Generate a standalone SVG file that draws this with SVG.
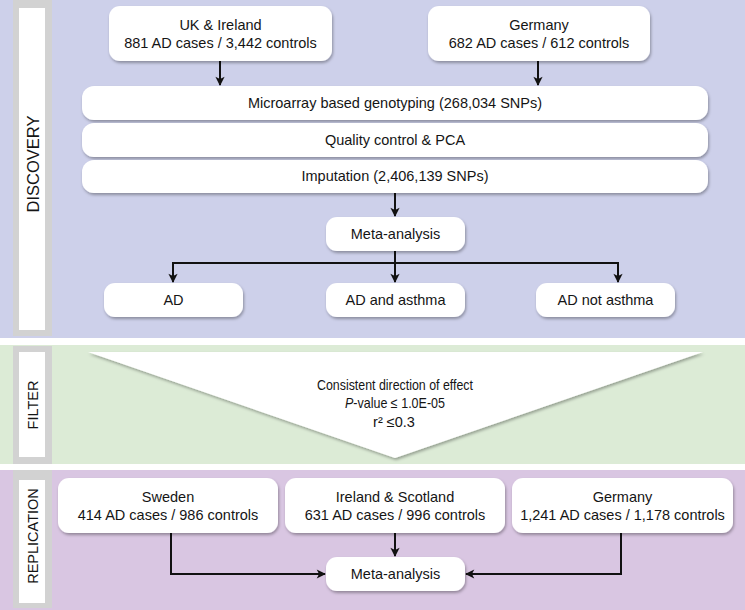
<svg xmlns="http://www.w3.org/2000/svg" width="745" height="610" viewBox="0 0 745 610">
<defs>
<filter id="sh" x="-10%" y="-20%" width="120%" height="150%">
<feDropShadow dx="1" dy="2" stdDeviation="1.6" flood-color="#000" flood-opacity="0.32"/>
</filter>
<marker id="ah" viewBox="0 0 10 10" refX="9" refY="5" markerWidth="5" markerHeight="4.6" orient="auto" markerUnits="strokeWidth">
<path d="M0,0 L10,5 L0,10 L2.5,5 z" fill="#111"/>
</marker>
<style>
.box{fill:#fff;filter:url(#sh)}
.t{font-family:"Liberation Sans",Arial,Helvetica,sans-serif;font-size:14.5px;fill:#151515;text-anchor:middle}
.lab{font-family:"Liberation Sans",Arial,Helvetica,sans-serif;fill:#151515;text-anchor:middle}
.strip{fill:#d2d2d2}
.inner{fill:#fff}
.c{fill:none;stroke:#111;stroke-width:2}
.ca{fill:none;stroke:#111;stroke-width:2;marker-end:url(#ah)}
</style>
</defs>
<rect x="0" y="0" width="745" height="610" fill="#fff"/>
<g id="panels">
<rect x="0" y="0" width="745" height="338" fill="#cdd0ea"/>
<rect x="0" y="345" width="745" height="119" fill="#dcebd6"/>
<rect x="0" y="470" width="745" height="140" fill="#d9c6e2"/>
</g>
<g id="label-discovery">
<rect class="strip" x="13" y="0" width="39" height="336"/>
<rect class="inner" x="19" y="8" width="26" height="322"/>
<text class="lab" font-size="16.5" transform="translate(39,164) rotate(-90)">DISCOVERY</text>
</g>
<g id="label-filter">
<rect class="strip" x="13" y="346" width="39" height="118"/>
<rect class="inner" x="19" y="352" width="26" height="105"/>
<text class="lab" font-size="14.5" transform="translate(38,405) rotate(-90)">FILTER</text>
</g>
<g id="label-replication">
<rect class="strip" x="13" y="470" width="39" height="138"/>
<rect class="inner" x="19" y="480" width="26" height="123"/>
<text class="lab" font-size="14.5" transform="translate(37.5,536) rotate(-90)">REPLICATION</text>
</g>
<g id="connectors">
<line class="ca" x1="220" y1="60" x2="220" y2="85"/>
<line class="ca" x1="538" y1="61" x2="538" y2="85"/>
<line class="ca" x1="395" y1="193" x2="395" y2="216"/>
<polyline class="c" points="173,263 618,263"/>
<line class="c" x1="395" y1="251" x2="395" y2="263"/>
<line class="ca" x1="173" y1="262" x2="173" y2="282"/>
<line class="ca" x1="395" y1="263" x2="395" y2="282"/>
<line class="ca" x1="618" y1="262" x2="618" y2="282"/>
<polyline class="ca" points="171,533 171,574 325,574"/>
<line class="ca" x1="395" y1="533" x2="395" y2="556"/>
<polyline class="ca" points="621,533 621,574 466,574"/>
</g>
<g id="uk-ireland">
<rect class="box" x="109" y="6" width="223" height="55" rx="11"/>
<text class="t" x="220.5" y="30">UK &amp; Ireland</text>
<text class="t" x="220.5" y="48">881 AD cases / 3,442 controls</text>
</g>
<g id="germany-discovery">
<rect class="box" x="428" y="6" width="222" height="55" rx="11"/>
<text class="t" x="539" y="30">Germany</text>
<text class="t" x="539" y="48">682 AD cases / 612 controls</text>
</g>
<g id="genotyping">
<rect class="box" x="82" y="86" width="626" height="34" rx="12"/>
<text class="t" x="395" y="108">Microarray based genotyping (268,034 SNPs)</text>
</g>
<g id="qc">
<rect class="box" x="82" y="123" width="626" height="34" rx="12"/>
<text class="t" x="395" y="145">Quality control &amp; PCA</text>
</g>
<g id="imputation">
<rect class="box" x="82" y="160" width="626" height="33" rx="12"/>
<text class="t" x="395" y="181">Imputation (2,406,139 SNPs)</text>
</g>
<g id="meta-discovery">
<rect class="box" x="326" y="217" width="139" height="34" rx="11"/>
<text class="t" x="395.5" y="239">Meta-analysis</text>
</g>
<g id="ad">
<rect class="box" x="104" y="283" width="139" height="34" rx="11"/>
<text class="t" x="173.5" y="305">AD</text>
</g>
<g id="ad-asthma">
<rect class="box" x="326" y="283" width="139" height="34" rx="11"/>
<text class="t" x="395.5" y="305">AD and asthma</text>
</g>
<g id="ad-not-asthma">
<rect class="box" x="536" y="283" width="139" height="34" rx="11"/>
<text class="t" x="605.5" y="305">AD not asthma</text>
</g>
<g id="filter">
<polygon points="88,352 703,352 395,458" fill="#fff" filter="url(#sh)"/>
<text class="t" x="395" y="390" textLength="156" lengthAdjust="spacingAndGlyphs">Consistent direction of effect</text>
<text class="t" x="395" y="408" textLength="100" lengthAdjust="spacingAndGlyphs"><tspan font-style="italic">P</tspan>-value ≤ 1.0E-05</text>
<text class="t" x="394" y="427">r² ≤0.3</text>
</g>
<g id="sweden">
<rect class="box" x="58" y="478" width="220" height="55" rx="11"/>
<text class="t" x="168" y="502">Sweden</text>
<text class="t" x="168" y="520">414 AD cases / 986 controls</text>
</g>
<g id="ireland-scotland">
<rect class="box" x="285" y="478" width="220" height="55" rx="11"/>
<text class="t" x="395" y="502">Ireland &amp; Scotland</text>
<text class="t" x="395" y="520">631 AD cases / 996 controls</text>
</g>
<g id="germany-replication">
<rect class="box" x="512" y="478" width="221" height="55" rx="11"/>
<text class="t" x="622.5" y="502">Germany</text>
<text class="t" x="622.5" y="520">1,241 AD cases / 1,178 controls</text>
</g>
<g id="meta-replication">
<rect class="box" x="326" y="557" width="139" height="34" rx="11"/>
<text class="t" x="395.5" y="579">Meta-analysis</text>
</g>
</svg>
